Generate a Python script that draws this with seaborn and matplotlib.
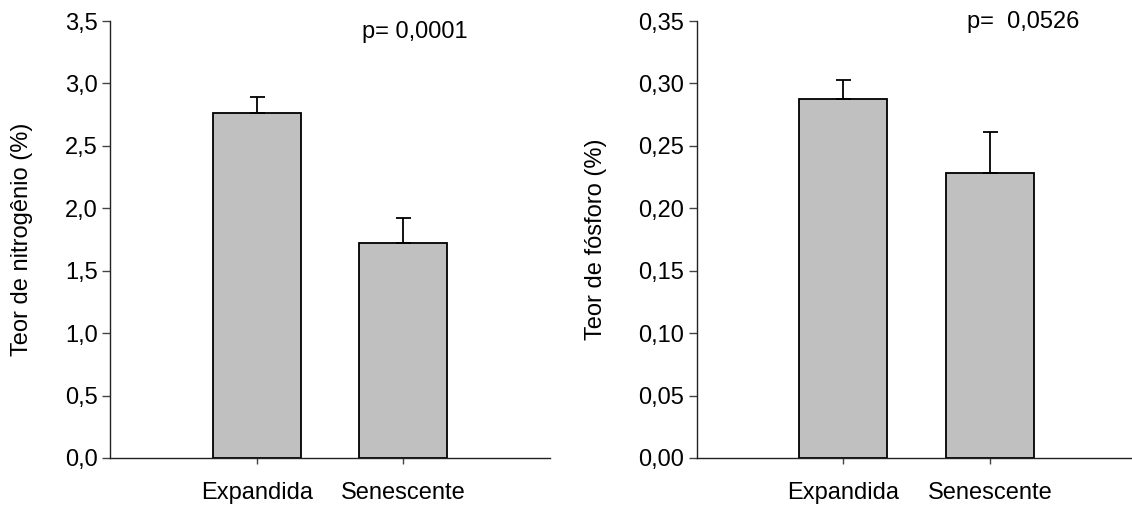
import matplotlib
matplotlib.use("Agg")
import matplotlib.pyplot as plt
import seaborn as sns
import pandas as pd

# Leaf nutrient content by leaf stage (mean + standard error)
categories = ["Expandida", "Senescente"]
nitrogen_mean = [2.76, 1.72]
nitrogen_err = [0.13, 0.20]
phosphorus_mean = [0.2875, 0.228]
phosphorus_err = [0.0155, 0.033]

n_ticks = [0.0, 0.5, 1.0, 1.5, 2.0, 2.5, 3.0, 3.5]
n_ticklabels = ["0,0", "0,5", "1,0", "1,5", "2,0", "2,5", "3,0", "3,5"]
p_ticks = [0.0, 0.05, 0.10, 0.15, 0.20, 0.25, 0.30, 0.35]
p_ticklabels = ["0,00", "0,05", "0,10", "0,15", "0,20", "0,25", "0,30", "0,35"]

sns.set_style("white")
plt.rcParams["font.family"] = ["Liberation Sans", "DejaVu Sans"]
plt.rcParams["font.size"] = 17
plt.rcParams["text.color"] = "black"
plt.rcParams["axes.labelcolor"] = "black"
plt.rcParams["xtick.labelcolor"] = "black"
plt.rcParams["ytick.labelcolor"] = "black"

fig = plt.figure(figsize=(11.32, 5.05), dpi=100)
ax_n = fig.add_axes([0.0972, 0.0931, 0.3887, 0.8653])
ax_p = fig.add_axes([0.6155, 0.0931, 0.3887, 0.8653])


def draw_panel(ax, means, errs, ticks, ticklabels, ylabel, ptext, ppos):
    df = pd.DataFrame({"estagio": categories, "teor": means})
    sns.barplot(data=df, x="estagio", y="teor", ax=ax, color="#c0c0c0",
                saturation=1, width=0.6, edgecolor="black", linewidth=1.3)
    ax.errorbar(range(len(means)), means, yerr=[[0] * len(errs), errs],
                fmt="none", ecolor="black", elinewidth=1.3, capsize=5.4,
                capthick=1.3)
    ax.set_xlim(-1, 2)
    ax.set_ylim(ticks[0], ticks[-1])
    ax.set_yticks(ticks)
    ax.set_yticklabels(ticklabels, fontsize=17)
    ax.set_xticks(range(len(categories)))
    ax.set_xticklabels(categories, fontsize=17)
    ax.set_xlabel("")
    ax.set_ylabel(ylabel, fontsize=17)
    for side in ("top", "right"):
        ax.spines[side].set_visible(False)
    for side in ("left", "bottom"):
        ax.spines[side].set_color("#222222")
        ax.spines[side].set_linewidth(1.0)
    ax.tick_params(axis="y", direction="out", length=6, width=1,
                   color="#444444", pad=3, left=True)
    ax.tick_params(axis="x", direction="out", length=4, width=1,
                   color="#444444", pad=13, bottom=True)
    ax.text(ppos[0], ppos[1], ptext, ha="left", va="center", fontsize=17)


draw_panel(ax_n, nitrogen_mean, nitrogen_err, n_ticks, n_ticklabels,
           "Teor de nitrogênio (%)", "p= 0,0001", (0.72, 3.41))
draw_panel(ax_p, phosphorus_mean, phosphorus_err, p_ticks, p_ticklabels,
           "Teor de fósforo (%)", "p=  0,0526", (0.84, 0.349))

ax_n.yaxis.set_label_coords(-0.175, 0.5)
ax_p.yaxis.set_label_coords(-0.204, 0.5)

fig.savefig("out.png", dpi=100)
